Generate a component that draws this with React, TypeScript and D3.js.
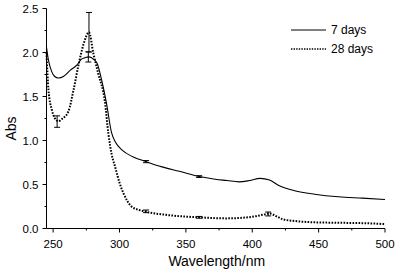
import React from "react";
import * as d3 from "d3";

const wl7 = [245, 246.5, 249, 251, 254, 258, 263, 268, 271, 274, 276.5, 279, 283, 286.5, 290, 294, 297, 302, 310, 320, 332, 345, 360, 372, 381, 390, 398, 406, 413, 420, 432, 447, 465, 483, 500];
const abs7 = [2.06, 1.91, 1.78, 1.73, 1.71, 1.73, 1.80, 1.86, 1.92, 1.94, 1.95, 1.94, 1.88, 1.69, 1.44, 1.09, 0.98, 0.89, 0.815, 0.76, 0.70, 0.65, 0.59, 0.56, 0.545, 0.53, 0.545, 0.57, 0.55, 0.49, 0.43, 0.39, 0.36, 0.345, 0.33];

const wl28 = [245, 246.5, 249, 251, 254, 257, 261.5, 265.3, 269, 273, 277, 280.3, 284, 289, 291.6, 294, 296.7, 300, 303, 306, 309, 315, 320, 335, 350, 360, 380, 395, 403, 409, 413, 418, 423, 432, 447, 465, 485, 500];
const abs28 = [2.0, 1.57, 1.35, 1.26, 1.22, 1.25, 1.33, 1.57, 1.85, 2.10, 2.23, 1.99, 1.76, 1.44, 1.08, 0.85, 0.70, 0.52, 0.40, 0.31, 0.25, 0.21, 0.19, 0.155, 0.135, 0.127, 0.115, 0.125, 0.14, 0.16, 0.17, 0.14, 0.105, 0.085, 0.07, 0.065, 0.06, 0.05];

const err7X = [276.5, 320, 360];
const err7Y = [1.95, 0.76, 0.59];
const err7E = [0.058, 0.012, 0.01];

const err28X = [253, 277, 320, 360, 412];
const err28Y = [1.215, 2.23, 0.195, 0.127, 0.165];
const err28E = [0.065, 0.225, 0.015, 0.01, 0.022];

const xTicks = [250, 300, 350, 400, 450, 500];
const xMinor = [275, 325, 375, 425, 475];
const yTicks = [0, 0.5, 1.0, 1.5, 2.0, 2.5];
const yMinor = [0.25, 0.75, 1.25, 1.75, 2.25];

const seriesNames = ["7 days", "28 days"];

const W = 397;
const H = 270;
const left = 46.5;
const right = 385;
const top = 8.5;
const bottom = 228.5;

export default function App() {
  const x = d3.scaleLinear().domain([245, 500]).range([left, right]);
  const y = d3.scaleLinear().domain([0, 2.5]).range([bottom, top]);
  const line = d3
    .line<[number, number]>()
    .x((d) => x(d[0]))
    .y((d) => y(d[1]))
    .curve(d3.curveMonotoneX);
  const d7 = line(wl7.map((w, i) => [w, abs7[i]] as [number, number])) || "";
  const d28 = line(wl28.map((w, i) => [w, abs28[i]] as [number, number])) || "";
  const font = "'Liberation Sans', Arial, Helvetica, sans-serif";

  const errBar = (cx: number, cy: number, e: number, k: string) => {
    const px = x(cx);
    const y1 = y(cy + e);
    const y2 = y(cy - e);
    return (
      <g key={k} stroke="#000" strokeWidth={1} fill="none">
        <line x1={px} x2={px} y1={y1} y2={y2} />
        <line x1={px - 3} x2={px + 3} y1={y1} y2={y1} />
        <line x1={px - 3} x2={px + 3} y1={y2} y2={y2} />
      </g>
    );
  };

  return (
    <svg
      width={W}
      height={H}
      style={{ position: "absolute", left: 0, top: 0, background: "#fff" }}
      fontFamily={font}
    >
      <rect x={0} y={0} width={W} height={H} fill="#fff" />
      {/* curves */}
      <path d={d7} fill="none" stroke="#000" strokeWidth={1.1} />
      <path d={d28} fill="none" stroke="#000" strokeWidth={2} strokeDasharray="1.6,1.4" />
      {err7X.map((w, i) => errBar(w, err7Y[i], err7E[i], "a" + i))}
      {err28X.map((w, i) => errBar(w, err28Y[i], err28E[i], "b" + i))}

      {/* axes */}
      <line x1={left} x2={left} y1={top} y2={bottom} stroke="#000" strokeWidth={1} />
      <line x1={left} x2={right} y1={bottom} y2={bottom} stroke="#000" strokeWidth={1} />
      {yTicks.map((t) => (
        <g key={"yt" + t}>
          <line x1={left - 4} x2={left} y1={y(t)} y2={y(t)} stroke="#000" />
          <text x={left - 8} y={y(t) + 4} fontSize={11.5} textAnchor="end" fill="#000">
            {t.toFixed(1)}
          </text>
        </g>
      ))}
      {yMinor.map((t) => (
        <line key={"ym" + t} x1={left - 2} x2={left} y1={y(t)} y2={y(t)} stroke="#000" />
      ))}
      {xTicks.map((t) => (
        <g key={"xt" + t}>
          <line x1={x(t)} x2={x(t)} y1={bottom} y2={bottom + 4} stroke="#000" />
          <text x={x(t)} y={bottom + 19} fontSize={11.5} textAnchor="middle" fill="#000">
            {t}
          </text>
        </g>
      ))}
      {xMinor.map((t) => (
        <line key={"xm" + t} x1={x(t)} x2={x(t)} y1={bottom} y2={bottom + 2} stroke="#000" />
      ))}
      <text x={(left + right) / 2 + 1} y={266} fontSize={14} textAnchor="middle" fill="#000">
        Wavelength/nm
      </text>
      <text
        transform={`translate(16,${(top + bottom) / 2 + 10}) rotate(-90)`}
        fontSize={14}
        textAnchor="middle"
        fill="#000"
      >
        Abs
      </text>

      {/* legend */}
      <line x1={291} x2={326} y1={30} y2={30} stroke="#000" strokeWidth={1} />
      <text x={331} y={34} fontSize={12} fill="#000">
        {seriesNames[0]}
      </text>
      <line x1={291} x2={326} y1={49} y2={49} stroke="#000" strokeWidth={1.6} strokeDasharray="1.4,1.2" />
      <text x={331} y={53} fontSize={12} fill="#000">
        {seriesNames[1]}
      </text>
    </svg>
  );
}
